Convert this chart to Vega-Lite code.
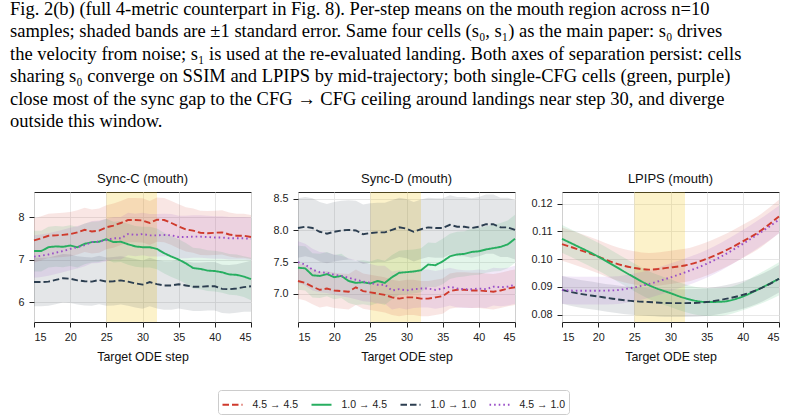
{
  "$schema": "https://vega.github.io/schema/vega-lite/v6.json",
  "padding": {"left": 10, "top": 0, "right": 4, "bottom": 8},
  "title": {
    "text": [
      "Fig. 2(b) (full 4-metric counterpart in Fig. 8).  Per-step means on the mouth region across n=10",
      "samples; shaded bands are ±1 standard error. Same four cells (s₀, s₁) as the main paper: s₀ drives",
      "the velocity from noise; s₁ is used at the re-evaluated landing. Both axes of separation persist: cells",
      "sharing s₀ converge on SSIM and LPIPS by mid-trajectory; both single-CFG cells (green, purple)",
      "close most of the sync gap to the CFG → CFG ceiling around landings near step 30, and diverge",
      "outside this window."
    ],
    "anchor": "start",
    "frame": "group",
    "font": "Liberation Serif",
    "fontSize": 18.5,
    "fontWeight": "normal",
    "lineHeight": 22.4,
    "color": "#000000",
    "offset": 42,
    "dx": -24
  },
  "config": {
    "view": {"stroke": "#222222", "strokeWidth": 1},
    "axis": {
      "labelFont": "Liberation Sans",
      "labelFontSize": 10.8,
      "labelColor": "#222222",
      "labelOverlap": false,
      "tickColor": "#222222",
      "tickSize": 5,
      "labelPadding": 5,
      "domain": false,
      "grid": true,
      "gridColor": "#e4e4e4",
      "gridWidth": 0.9,
      "titleFont": "Liberation Sans",
      "titleFontSize": 12.4,
      "titleFontWeight": "normal",
      "titleColor": "#111111",
      "titlePadding": 9
    },
    "axisX": {"labelPadding": 4},
    "title": {"font": "Liberation Sans", "fontSize": 13, "fontWeight": "normal", "color": "#111111", "offset": 6},
    "legend": {"strokeColor": "#cccccc", "padding": 3.5, "cornerRadius": 3, "symbolType": "stroke", "symbolSize": 400, "symbolStrokeWidth": 1.8, "labelFont": "Liberation Sans", "labelFontSize": 10.5, "labelColor": "#222222", "columnPadding": 9, "labelOffset": 9}
  },
  "bounds": "flush",
  "spacing": 47,
  "datasets": {
    "C": [
      {"s":15,"c":"4.5 → 4.5","v":7.45,"e":0.52},{"s":16,"c":"4.5 → 4.5","v":7.50,"e":0.52},{"s":17,"c":"4.5 → 4.5","v":7.56,"e":0.52},{"s":18,"c":"4.5 → 4.5","v":7.57,"e":0.52},{"s":19,"c":"4.5 → 4.5","v":7.58,"e":0.52},{"s":20,"c":"4.5 → 4.5","v":7.60,"e":0.52},{"s":21,"c":"4.5 → 4.5","v":7.64,"e":0.52},{"s":22,"c":"4.5 → 4.5","v":7.70,"e":0.52},{"s":23,"c":"4.5 → 4.5","v":7.66,"e":0.52},{"s":24,"c":"4.5 → 4.5","v":7.68,"e":0.52},{"s":25,"c":"4.5 → 4.5","v":7.76,"e":0.52},{"s":26,"c":"4.5 → 4.5","v":7.80,"e":0.52},{"s":27,"c":"4.5 → 4.5","v":7.86,"e":0.52},{"s":28,"c":"4.5 → 4.5","v":7.93,"e":0.52},{"s":29,"c":"4.5 → 4.5","v":7.93,"e":0.52},{"s":30,"c":"4.5 → 4.5","v":7.92,"e":0.52},{"s":31,"c":"4.5 → 4.5","v":7.86,"e":0.52},{"s":32,"c":"4.5 → 4.5","v":7.94,"e":0.52},{"s":33,"c":"4.5 → 4.5","v":7.93,"e":0.52},{"s":34,"c":"4.5 → 4.5","v":7.86,"e":0.52},{"s":35,"c":"4.5 → 4.5","v":7.78,"e":0.52},{"s":36,"c":"4.5 → 4.5","v":7.71,"e":0.52},{"s":37,"c":"4.5 → 4.5","v":7.68,"e":0.52},{"s":38,"c":"4.5 → 4.5","v":7.63,"e":0.52},{"s":39,"c":"4.5 → 4.5","v":7.62,"e":0.52},{"s":40,"c":"4.5 → 4.5","v":7.63,"e":0.52},{"s":41,"c":"4.5 → 4.5","v":7.64,"e":0.52},{"s":42,"c":"4.5 → 4.5","v":7.59,"e":0.52},{"s":43,"c":"4.5 → 4.5","v":7.56,"e":0.52},{"s":44,"c":"4.5 → 4.5","v":7.56,"e":0.52},{"s":45,"c":"4.5 → 4.5","v":7.53,"e":0.52},
      {"s":15,"c":"1.0 → 4.5","v":7.20,"e":0.48},{"s":16,"c":"1.0 → 4.5","v":7.20,"e":0.48},{"s":17,"c":"1.0 → 4.5","v":7.29,"e":0.48},{"s":18,"c":"1.0 → 4.5","v":7.31,"e":0.48},{"s":19,"c":"1.0 → 4.5","v":7.30,"e":0.48},{"s":20,"c":"1.0 → 4.5","v":7.33,"e":0.48},{"s":21,"c":"1.0 → 4.5","v":7.29,"e":0.48},{"s":22,"c":"1.0 → 4.5","v":7.37,"e":0.48},{"s":23,"c":"1.0 → 4.5","v":7.41,"e":0.48},{"s":24,"c":"1.0 → 4.5","v":7.42,"e":0.48},{"s":25,"c":"1.0 → 4.5","v":7.48,"e":0.48},{"s":26,"c":"1.0 → 4.5","v":7.41,"e":0.48},{"s":27,"c":"1.0 → 4.5","v":7.42,"e":0.48},{"s":28,"c":"1.0 → 4.5","v":7.36,"e":0.48},{"s":29,"c":"1.0 → 4.5","v":7.31,"e":0.48},{"s":30,"c":"1.0 → 4.5","v":7.29,"e":0.48},{"s":31,"c":"1.0 → 4.5","v":7.29,"e":0.48},{"s":32,"c":"1.0 → 4.5","v":7.25,"e":0.48},{"s":33,"c":"1.0 → 4.5","v":7.15,"e":0.48},{"s":34,"c":"1.0 → 4.5","v":7.07,"e":0.48},{"s":35,"c":"1.0 → 4.5","v":7.00,"e":0.48},{"s":36,"c":"1.0 → 4.5","v":6.91,"e":0.48},{"s":37,"c":"1.0 → 4.5","v":6.80,"e":0.48},{"s":38,"c":"1.0 → 4.5","v":6.78,"e":0.48},{"s":39,"c":"1.0 → 4.5","v":6.74,"e":0.48},{"s":40,"c":"1.0 → 4.5","v":6.73,"e":0.48},{"s":41,"c":"1.0 → 4.5","v":6.70,"e":0.48},{"s":42,"c":"1.0 → 4.5","v":6.65,"e":0.48},{"s":43,"c":"1.0 → 4.5","v":6.64,"e":0.48},{"s":44,"c":"1.0 → 4.5","v":6.60,"e":0.48},{"s":45,"c":"1.0 → 4.5","v":6.54,"e":0.5},
      {"s":15,"c":"1.0 → 1.0","v":6.47,"e":0.57},{"s":16,"c":"1.0 → 1.0","v":6.47,"e":0.57},{"s":17,"c":"1.0 → 1.0","v":6.48,"e":0.57},{"s":18,"c":"1.0 → 1.0","v":6.52,"e":0.57},{"s":19,"c":"1.0 → 1.0","v":6.56,"e":0.57},{"s":20,"c":"1.0 → 1.0","v":6.55,"e":0.57},{"s":21,"c":"1.0 → 1.0","v":6.51,"e":0.57},{"s":22,"c":"1.0 → 1.0","v":6.49,"e":0.57},{"s":23,"c":"1.0 → 1.0","v":6.48,"e":0.57},{"s":24,"c":"1.0 → 1.0","v":6.52,"e":0.57},{"s":25,"c":"1.0 → 1.0","v":6.48,"e":0.57},{"s":26,"c":"1.0 → 1.0","v":6.49,"e":0.57},{"s":27,"c":"1.0 → 1.0","v":6.51,"e":0.57},{"s":28,"c":"1.0 → 1.0","v":6.48,"e":0.57},{"s":29,"c":"1.0 → 1.0","v":6.44,"e":0.57},{"s":30,"c":"1.0 → 1.0","v":6.41,"e":0.57},{"s":31,"c":"1.0 → 1.0","v":6.47,"e":0.57},{"s":32,"c":"1.0 → 1.0","v":6.42,"e":0.57},{"s":33,"c":"1.0 → 1.0","v":6.39,"e":0.57},{"s":34,"c":"1.0 → 1.0","v":6.39,"e":0.57},{"s":35,"c":"1.0 → 1.0","v":6.42,"e":0.57},{"s":36,"c":"1.0 → 1.0","v":6.39,"e":0.57},{"s":37,"c":"1.0 → 1.0","v":6.36,"e":0.57},{"s":38,"c":"1.0 → 1.0","v":6.36,"e":0.57},{"s":39,"c":"1.0 → 1.0","v":6.37,"e":0.57},{"s":40,"c":"1.0 → 1.0","v":6.37,"e":0.57},{"s":41,"c":"1.0 → 1.0","v":6.31,"e":0.57},{"s":42,"c":"1.0 → 1.0","v":6.30,"e":0.57},{"s":43,"c":"1.0 → 1.0","v":6.32,"e":0.57},{"s":44,"c":"1.0 → 1.0","v":6.35,"e":0.58},{"s":45,"c":"1.0 → 1.0","v":6.37,"e":0.6},
      {"s":15,"c":"4.5 → 1.0","v":7.07,"e":0.5},{"s":16,"c":"4.5 → 1.0","v":7.09,"e":0.5},{"s":17,"c":"4.5 → 1.0","v":7.12,"e":0.5},{"s":18,"c":"4.5 → 1.0","v":7.16,"e":0.5},{"s":19,"c":"4.5 → 1.0","v":7.20,"e":0.5},{"s":20,"c":"4.5 → 1.0","v":7.25,"e":0.5},{"s":21,"c":"4.5 → 1.0","v":7.29,"e":0.5},{"s":22,"c":"4.5 → 1.0","v":7.34,"e":0.5},{"s":23,"c":"4.5 → 1.0","v":7.41,"e":0.5},{"s":24,"c":"4.5 → 1.0","v":7.42,"e":0.5},{"s":25,"c":"4.5 → 1.0","v":7.46,"e":0.5},{"s":26,"c":"4.5 → 1.0","v":7.50,"e":0.5},{"s":27,"c":"4.5 → 1.0","v":7.50,"e":0.5},{"s":28,"c":"4.5 → 1.0","v":7.60,"e":0.5},{"s":29,"c":"4.5 → 1.0","v":7.58,"e":0.5},{"s":30,"c":"4.5 → 1.0","v":7.60,"e":0.5},{"s":31,"c":"4.5 → 1.0","v":7.57,"e":0.5},{"s":32,"c":"4.5 → 1.0","v":7.57,"e":0.5},{"s":33,"c":"4.5 → 1.0","v":7.58,"e":0.5},{"s":34,"c":"4.5 → 1.0","v":7.57,"e":0.5},{"s":35,"c":"4.5 → 1.0","v":7.53,"e":0.5},{"s":36,"c":"4.5 → 1.0","v":7.53,"e":0.5},{"s":37,"c":"4.5 → 1.0","v":7.54,"e":0.5},{"s":38,"c":"4.5 → 1.0","v":7.54,"e":0.5},{"s":39,"c":"4.5 → 1.0","v":7.53,"e":0.5},{"s":40,"c":"4.5 → 1.0","v":7.52,"e":0.5},{"s":41,"c":"4.5 → 1.0","v":7.52,"e":0.5},{"s":42,"c":"4.5 → 1.0","v":7.50,"e":0.5},{"s":43,"c":"4.5 → 1.0","v":7.50,"e":0.5},{"s":44,"c":"4.5 → 1.0","v":7.50,"e":0.5},{"s":45,"c":"4.5 → 1.0","v":7.49,"e":0.5}
    ],
    "D": [
      {"s":15,"c":"4.5 → 4.5","v":7.20,"e":0.28},{"s":16,"c":"4.5 → 4.5","v":7.17,"e":0.28},{"s":17,"c":"4.5 → 4.5","v":7.11,"e":0.28},{"s":18,"c":"4.5 → 4.5","v":7.06,"e":0.28},{"s":19,"c":"4.5 → 4.5","v":7.08,"e":0.28},{"s":20,"c":"4.5 → 4.5","v":7.05,"e":0.28},{"s":21,"c":"4.5 → 4.5","v":7.04,"e":0.28},{"s":22,"c":"4.5 → 4.5","v":7.03,"e":0.28},{"s":23,"c":"4.5 → 4.5","v":7.10,"e":0.28},{"s":24,"c":"4.5 → 4.5","v":7.04,"e":0.28},{"s":25,"c":"4.5 → 4.5","v":7.02,"e":0.28},{"s":26,"c":"4.5 → 4.5","v":7.00,"e":0.28},{"s":27,"c":"4.5 → 4.5","v":6.98,"e":0.28},{"s":28,"c":"4.5 → 4.5","v":6.94,"e":0.28},{"s":29,"c":"4.5 → 4.5","v":6.92,"e":0.28},{"s":30,"c":"4.5 → 4.5","v":6.94,"e":0.28},{"s":31,"c":"4.5 → 4.5","v":6.94,"e":0.28},{"s":32,"c":"4.5 → 4.5","v":6.92,"e":0.28},{"s":33,"c":"4.5 → 4.5","v":6.92,"e":0.28},{"s":34,"c":"4.5 → 4.5","v":6.94,"e":0.28},{"s":35,"c":"4.5 → 4.5","v":6.96,"e":0.28},{"s":36,"c":"4.5 → 4.5","v":7.04,"e":0.28},{"s":37,"c":"4.5 → 4.5","v":7.06,"e":0.28},{"s":38,"c":"4.5 → 4.5","v":7.06,"e":0.28},{"s":39,"c":"4.5 → 4.5","v":7.05,"e":0.28},{"s":40,"c":"4.5 → 4.5","v":7.05,"e":0.28},{"s":41,"c":"4.5 → 4.5","v":7.04,"e":0.28},{"s":42,"c":"4.5 → 4.5","v":7.03,"e":0.28},{"s":43,"c":"4.5 → 4.5","v":7.05,"e":0.28},{"s":44,"c":"4.5 → 4.5","v":7.08,"e":0.28},{"s":45,"c":"4.5 → 4.5","v":7.10,"e":0.28},
      {"s":15,"c":"1.0 → 4.5","v":7.41,"e":0.35},{"s":16,"c":"1.0 → 4.5","v":7.40,"e":0.35},{"s":17,"c":"1.0 → 4.5","v":7.29,"e":0.35},{"s":18,"c":"1.0 → 4.5","v":7.28,"e":0.35},{"s":19,"c":"1.0 → 4.5","v":7.31,"e":0.35},{"s":20,"c":"1.0 → 4.5","v":7.26,"e":0.35},{"s":21,"c":"1.0 → 4.5","v":7.28,"e":0.35},{"s":22,"c":"1.0 → 4.5","v":7.20,"e":0.35},{"s":23,"c":"1.0 → 4.5","v":7.17,"e":0.35},{"s":24,"c":"1.0 → 4.5","v":7.18,"e":0.35},{"s":25,"c":"1.0 → 4.5","v":7.16,"e":0.35},{"s":26,"c":"1.0 → 4.5","v":7.20,"e":0.35},{"s":27,"c":"1.0 → 4.5","v":7.17,"e":0.35},{"s":28,"c":"1.0 → 4.5","v":7.26,"e":0.35},{"s":29,"c":"1.0 → 4.5","v":7.33,"e":0.35},{"s":30,"c":"1.0 → 4.5","v":7.34,"e":0.35},{"s":31,"c":"1.0 → 4.5","v":7.35,"e":0.35},{"s":32,"c":"1.0 → 4.5","v":7.37,"e":0.35},{"s":33,"c":"1.0 → 4.5","v":7.46,"e":0.35},{"s":34,"c":"1.0 → 4.5","v":7.45,"e":0.35},{"s":35,"c":"1.0 → 4.5","v":7.51,"e":0.36},{"s":36,"c":"1.0 → 4.5","v":7.59,"e":0.36},{"s":37,"c":"1.0 → 4.5","v":7.62,"e":0.36},{"s":38,"c":"1.0 → 4.5","v":7.63,"e":0.36},{"s":39,"c":"1.0 → 4.5","v":7.66,"e":0.37},{"s":40,"c":"1.0 → 4.5","v":7.67,"e":0.37},{"s":41,"c":"1.0 → 4.5","v":7.70,"e":0.37},{"s":42,"c":"1.0 → 4.5","v":7.72,"e":0.37},{"s":43,"c":"1.0 → 4.5","v":7.74,"e":0.38},{"s":44,"c":"1.0 → 4.5","v":7.78,"e":0.38},{"s":45,"c":"1.0 → 4.5","v":7.87,"e":0.38},
      {"s":15,"c":"1.0 → 1.0","v":8.04,"e":0.47},{"s":16,"c":"1.0 → 1.0","v":8.06,"e":0.47},{"s":17,"c":"1.0 → 1.0","v":8.04,"e":0.47},{"s":18,"c":"1.0 → 1.0","v":7.98,"e":0.47},{"s":19,"c":"1.0 → 1.0","v":7.95,"e":0.47},{"s":20,"c":"1.0 → 1.0","v":7.98,"e":0.47},{"s":21,"c":"1.0 → 1.0","v":8.00,"e":0.47},{"s":22,"c":"1.0 → 1.0","v":8.01,"e":0.47},{"s":23,"c":"1.0 → 1.0","v":8.00,"e":0.47},{"s":24,"c":"1.0 → 1.0","v":7.94,"e":0.47},{"s":25,"c":"1.0 → 1.0","v":7.96,"e":0.47},{"s":26,"c":"1.0 → 1.0","v":7.97,"e":0.47},{"s":27,"c":"1.0 → 1.0","v":7.97,"e":0.47},{"s":28,"c":"1.0 → 1.0","v":8.01,"e":0.47},{"s":29,"c":"1.0 → 1.0","v":8.05,"e":0.47},{"s":30,"c":"1.0 → 1.0","v":8.03,"e":0.47},{"s":31,"c":"1.0 → 1.0","v":7.98,"e":0.47},{"s":32,"c":"1.0 → 1.0","v":8.02,"e":0.47},{"s":33,"c":"1.0 → 1.0","v":8.05,"e":0.47},{"s":34,"c":"1.0 → 1.0","v":8.04,"e":0.47},{"s":35,"c":"1.0 → 1.0","v":8.04,"e":0.47},{"s":36,"c":"1.0 → 1.0","v":8.09,"e":0.47},{"s":37,"c":"1.0 → 1.0","v":8.06,"e":0.47},{"s":38,"c":"1.0 → 1.0","v":8.06,"e":0.47},{"s":39,"c":"1.0 → 1.0","v":8.04,"e":0.47},{"s":40,"c":"1.0 → 1.0","v":8.06,"e":0.47},{"s":41,"c":"1.0 → 1.0","v":8.10,"e":0.47},{"s":42,"c":"1.0 → 1.0","v":8.10,"e":0.47},{"s":43,"c":"1.0 → 1.0","v":8.05,"e":0.47},{"s":44,"c":"1.0 → 1.0","v":8.05,"e":0.47},{"s":45,"c":"1.0 → 1.0","v":8.01,"e":0.47},
      {"s":15,"c":"4.5 → 1.0","v":7.50,"e":0.33},{"s":16,"c":"4.5 → 1.0","v":7.46,"e":0.33},{"s":17,"c":"4.5 → 1.0","v":7.38,"e":0.33},{"s":18,"c":"4.5 → 1.0","v":7.34,"e":0.32},{"s":19,"c":"4.5 → 1.0","v":7.33,"e":0.32},{"s":20,"c":"4.5 → 1.0","v":7.30,"e":0.32},{"s":21,"c":"4.5 → 1.0","v":7.28,"e":0.32},{"s":22,"c":"4.5 → 1.0","v":7.25,"e":0.31},{"s":23,"c":"4.5 → 1.0","v":7.22,"e":0.31},{"s":24,"c":"4.5 → 1.0","v":7.19,"e":0.31},{"s":25,"c":"4.5 → 1.0","v":7.17,"e":0.3},{"s":26,"c":"4.5 → 1.0","v":7.14,"e":0.3},{"s":27,"c":"4.5 → 1.0","v":7.14,"e":0.3},{"s":28,"c":"4.5 → 1.0","v":7.05,"e":0.3},{"s":29,"c":"4.5 → 1.0","v":7.07,"e":0.3},{"s":30,"c":"4.5 → 1.0","v":7.05,"e":0.3},{"s":31,"c":"4.5 → 1.0","v":7.07,"e":0.3},{"s":32,"c":"4.5 → 1.0","v":7.08,"e":0.3},{"s":33,"c":"4.5 → 1.0","v":7.08,"e":0.3},{"s":34,"c":"4.5 → 1.0","v":7.06,"e":0.3},{"s":35,"c":"4.5 → 1.0","v":7.08,"e":0.3},{"s":36,"c":"4.5 → 1.0","v":7.11,"e":0.3},{"s":37,"c":"4.5 → 1.0","v":7.08,"e":0.3},{"s":38,"c":"4.5 → 1.0","v":7.07,"e":0.3},{"s":39,"c":"4.5 → 1.0","v":7.07,"e":0.3},{"s":40,"c":"4.5 → 1.0","v":7.08,"e":0.3},{"s":41,"c":"4.5 → 1.0","v":7.07,"e":0.3},{"s":42,"c":"4.5 → 1.0","v":7.11,"e":0.3},{"s":43,"c":"4.5 → 1.0","v":7.10,"e":0.3},{"s":44,"c":"4.5 → 1.0","v":7.11,"e":0.3},{"s":45,"c":"4.5 → 1.0","v":7.14,"e":0.3}
    ],
    "L": [
      {"s":15,"c":"4.5 → 4.5","v":0.1054,"e":0.006},{"s":17,"c":"4.5 → 4.5","v":0.1037,"e":0.006},{"s":20,"c":"4.5 → 4.5","v":0.1009,"e":0.006},{"s":22,"c":"4.5 → 4.5","v":0.0988,"e":0.006},{"s":25,"c":"4.5 → 4.5","v":0.0968,"e":0.006},{"s":27,"c":"4.5 → 4.5","v":0.0962,"e":0.006},{"s":30,"c":"4.5 → 4.5","v":0.0970,"e":0.006},{"s":32,"c":"4.5 → 4.5","v":0.0977,"e":0.006},{"s":35,"c":"4.5 → 4.5","v":0.1001,"e":0.006},{"s":37,"c":"4.5 → 4.5","v":0.1023,"e":0.006},{"s":40,"c":"4.5 → 4.5","v":0.1064,"e":0.006},{"s":42,"c":"4.5 → 4.5","v":0.1094,"e":0.006},{"s":45,"c":"4.5 → 4.5","v":0.1154,"e":0.006},
      {"s":15,"c":"1.0 → 4.5","v":0.1073,"e":0.005},{"s":17,"c":"1.0 → 4.5","v":0.1048,"e":0.005},{"s":20,"c":"1.0 → 4.5","v":0.1009,"e":0.005},{"s":22,"c":"1.0 → 4.5","v":0.0979,"e":0.005},{"s":25,"c":"1.0 → 4.5","v":0.0934,"e":0.005},{"s":27,"c":"1.0 → 4.5","v":0.0906,"e":0.005},{"s":30,"c":"1.0 → 4.5","v":0.0877,"e":0.005},{"s":32,"c":"1.0 → 4.5","v":0.0859,"e":0.005},{"s":35,"c":"1.0 → 4.5","v":0.0845,"e":0.005},{"s":37,"c":"1.0 → 4.5","v":0.0846,"e":0.005},{"s":40,"c":"1.0 → 4.5","v":0.0865,"e":0.005},{"s":42,"c":"1.0 → 4.5","v":0.0889,"e":0.0055},{"s":45,"c":"1.0 → 4.5","v":0.0929,"e":0.006},
      {"s":15,"c":"1.0 → 1.0","v":0.0889,"e":0.005},{"s":17,"c":"1.0 → 1.0","v":0.0877,"e":0.005},{"s":20,"c":"1.0 → 1.0","v":0.0865,"e":0.005},{"s":22,"c":"1.0 → 1.0","v":0.0857,"e":0.005},{"s":25,"c":"1.0 → 1.0","v":0.0848,"e":0.005},{"s":27,"c":"1.0 → 1.0","v":0.0845,"e":0.005},{"s":30,"c":"1.0 → 1.0","v":0.0841,"e":0.005},{"s":32,"c":"1.0 → 1.0","v":0.0841,"e":0.005},{"s":35,"c":"1.0 → 1.0","v":0.0845,"e":0.005},{"s":37,"c":"1.0 → 1.0","v":0.0853,"e":0.005},{"s":40,"c":"1.0 → 1.0","v":0.0871,"e":0.005},{"s":42,"c":"1.0 → 1.0","v":0.0889,"e":0.005},{"s":45,"c":"1.0 → 1.0","v":0.0929,"e":0.005},
      {"s":15,"c":"4.5 → 1.0","v":0.0889,"e":0.005},{"s":17,"c":"4.5 → 1.0","v":0.0886,"e":0.005},{"s":20,"c":"4.5 → 1.0","v":0.0886,"e":0.005},{"s":22,"c":"4.5 → 1.0","v":0.0887,"e":0.005},{"s":25,"c":"4.5 → 1.0","v":0.0898,"e":0.005},{"s":27,"c":"4.5 → 1.0","v":0.0910,"e":0.005},{"s":30,"c":"4.5 → 1.0","v":0.0934,"e":0.005},{"s":32,"c":"4.5 → 1.0","v":0.0952,"e":0.005},{"s":35,"c":"4.5 → 1.0","v":0.0983,"e":0.005},{"s":37,"c":"4.5 → 1.0","v":0.1009,"e":0.005},{"s":40,"c":"4.5 → 1.0","v":0.1055,"e":0.005},{"s":42,"c":"4.5 → 1.0","v":0.1088,"e":0.005},{"s":45,"c":"4.5 → 1.0","v":0.1142,"e":0.005}
    ],
    "win": [{"a": 25, "b": 32}]
  },
  "hconcat": [
    {
      "width": 217, "height": 130,
      "title": "Sync-C (mouth)",
      "layer": [
        {"data": {"name": "win"}, "mark": {"type": "rect", "color": "#f1c40f", "opacity": 0.22},
         "encoding": {"x": {"field": "a", "type": "quantitative", "title": "Target ODE step", "scale": {"domain": [15, 45], "nice": false, "zero": false}, "axis": {"values": [15, 20, 25, 30, 35, 40, 45]}}, "x2": {"field": "b"}}},
        {"data": {"name": "C"}, "mark": {"type": "errorband", "opacity": 0.13},
         "encoding": {"x": {"field": "s", "type": "quantitative", "title": "Target ODE step", "scale": {"domain": [15, 45], "nice": false, "zero": false}, "axis": {"values": [15, 20, 25, 30, 35, 40, 45]}},
                      "y": {"field": "v", "type": "quantitative", "title": null, "scale": {"domain": [5.53, 8.59], "nice": false, "zero": false}, "axis": {"values": [6, 7, 8], "format": "d"}},
                      "yError": {"field": "e"},
                      "fill": {"field": "c", "type": "nominal", "legend": null, "scale": {"domain": ["1.0 → 4.5", "4.5 → 4.5", "1.0 → 1.0", "4.5 → 1.0"], "range": ["#27ae60", "#cf3a2c", "#2c3e50", "#9a4fc8"]}}}},
        {"data": {"name": "C"}, "mark": {"type": "line", "strokeWidth": 1.9},
         "encoding": {"x": {"field": "s", "type": "quantitative", "title": "Target ODE step", "scale": {"domain": [15, 45], "nice": false, "zero": false}, "axis": {"values": [15, 20, 25, 30, 35, 40, 45]}},
                      "y": {"field": "v", "type": "quantitative", "title": null, "scale": {"domain": [5.53, 8.59], "nice": false, "zero": false}, "axis": {"values": [6, 7, 8], "format": "d"}},
                      "color": {"field": "c", "type": "nominal", "title": null,
                                "scale": {"domain": ["4.5 → 4.5", "1.0 → 4.5", "1.0 → 1.0", "4.5 → 1.0"], "range": ["#cf3a2c", "#27ae60", "#2c3e50", "#9a4fc8"]},
                                "legend": {"orient": "none", "legendX": 184, "legendY": 198, "direction": "horizontal", "title": null}},
                      "strokeDash": {"field": "c", "type": "nominal", "title": null,
                                "scale": {"domain": ["4.5 → 4.5", "1.0 → 4.5", "1.0 → 1.0", "4.5 → 1.0"], "range": [[6.5, 3], [1, 0], [6.5, 3], [1.6, 3]]},
                                "legend": {"orient": "none", "legendX": 184, "legendY": 198, "direction": "horizontal", "title": null}}}}
      ]
    },
    {
      "width": 217, "height": 130,
      "title": "Sync-D (mouth)",
      "layer": [
        {"data": {"name": "win"}, "mark": {"type": "rect", "color": "#f1c40f", "opacity": 0.22},
         "encoding": {"x": {"field": "a", "type": "quantitative", "title": "Target ODE step", "scale": {"domain": [15, 45], "nice": false, "zero": false}, "axis": {"values": [15, 20, 25, 30, 35, 40, 45]}}, "x2": {"field": "b"}}},
        {"data": {"name": "D"}, "mark": {"type": "errorband", "opacity": 0.13},
         "encoding": {"x": {"field": "s", "type": "quantitative", "title": "Target ODE step", "scale": {"domain": [15, 45], "nice": false, "zero": false}, "axis": {"values": [15, 20, 25, 30, 35, 40, 45]}},
                      "y": {"field": "v", "type": "quantitative", "title": null, "scale": {"domain": [6.55, 8.61], "nice": false, "zero": false}, "axis": {"values": [7, 7.5, 8, 8.5], "format": ".1f"}},
                      "yError": {"field": "e"},
                      "fill": {"field": "c", "type": "nominal", "legend": null}}},
        {"data": {"name": "D"}, "mark": {"type": "line", "strokeWidth": 1.9},
         "encoding": {"x": {"field": "s", "type": "quantitative", "title": "Target ODE step", "scale": {"domain": [15, 45], "nice": false, "zero": false}, "axis": {"values": [15, 20, 25, 30, 35, 40, 45]}},
                      "y": {"field": "v", "type": "quantitative", "title": null, "scale": {"domain": [6.55, 8.61], "nice": false, "zero": false}, "axis": {"values": [7, 7.5, 8, 8.5], "format": ".1f"}},
                      "color": {"field": "c", "type": "nominal", "title": null},
                      "strokeDash": {"field": "c", "type": "nominal", "title": null}}}
      ]
    },
    {
      "width": 217, "height": 130,
      "title": "LPIPS (mouth)",
      "layer": [
        {"data": {"name": "win"}, "mark": {"type": "rect", "color": "#f1c40f", "opacity": 0.22},
         "encoding": {"x": {"field": "a", "type": "quantitative", "title": "Target ODE step", "scale": {"domain": [15, 45], "nice": false, "zero": false}, "axis": {"values": [15, 20, 25, 30, 35, 40, 45]}}, "x2": {"field": "b"}}},
        {"data": {"name": "L"}, "mark": {"type": "errorband", "opacity": 0.13, "interpolate": "monotone"},
         "encoding": {"x": {"field": "s", "type": "quantitative", "title": "Target ODE step", "scale": {"domain": [15, 45], "nice": false, "zero": false}, "axis": {"values": [15, 20, 25, 30, 35, 40, 45]}},
                      "y": {"field": "v", "type": "quantitative", "title": null, "scale": {"domain": [0.0773, 0.1242], "nice": false, "zero": false}, "axis": {"values": [0.08, 0.09, 0.10, 0.11, 0.12], "format": ".2f"}},
                      "yError": {"field": "e"},
                      "fill": {"field": "c", "type": "nominal", "legend": null}}},
        {"data": {"name": "L"}, "mark": {"type": "line", "strokeWidth": 1.9, "interpolate": "monotone"},
         "encoding": {"x": {"field": "s", "type": "quantitative", "title": "Target ODE step", "scale": {"domain": [15, 45], "nice": false, "zero": false}, "axis": {"values": [15, 20, 25, 30, 35, 40, 45]}},
                      "y": {"field": "v", "type": "quantitative", "title": null, "scale": {"domain": [0.0773, 0.1242], "nice": false, "zero": false}, "axis": {"values": [0.08, 0.09, 0.10, 0.11, 0.12], "format": ".2f"}},
                      "color": {"field": "c", "type": "nominal", "title": null},
                      "strokeDash": {"field": "c", "type": "nominal", "title": null}}}
      ]
    }
  ]
}
